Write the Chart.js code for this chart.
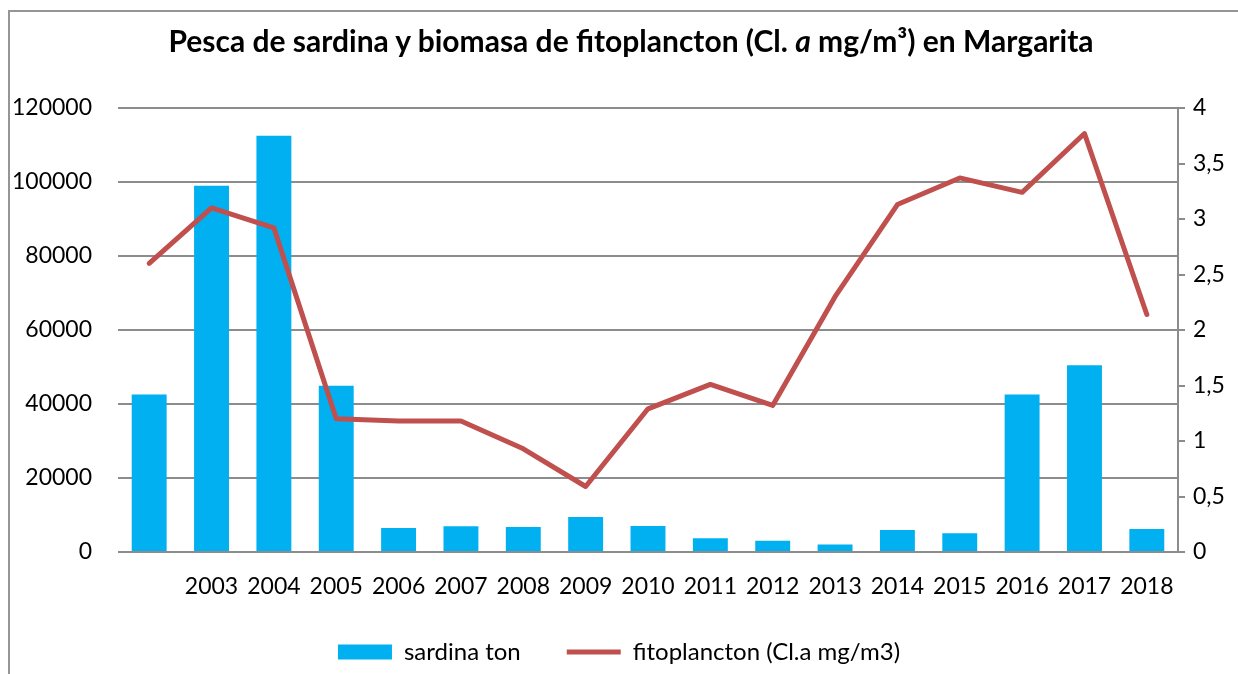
<!DOCTYPE html>
<html>
<head>
<meta charset="utf-8">
<script src="https://cdn.jsdelivr.net/npm/chart.js@4.4.1/dist/chart.umd.min.js"></script>
<style>
  html, body { margin: 0; padding: 0; background: #fff; }
  #wrap { position: relative; width: 1238px; height: 674px; overflow: hidden; }
  #frame { position: absolute; left: 8px; top: 10px; width: 1240px; height: 680px;
           border-left: 2px solid #959595; border-top: 2px solid #959595; }
  #title { position: absolute; top: 22px; left: 12px; width: 1238px; text-align: center;
           font: bold 30px Lato, sans-serif; color: #000; }
  canvas { position: absolute; left: 0; top: 0; }
</style>
</head>
<body>
<div id="wrap">
  <div id="frame"></div>
  <canvas id="chart" width="1238" height="674"></canvas>
  <div id="title">Pesca de sardina y biomasa de fitoplancton (Cl. <i>a</i> mg/m³) en Margarita</div>
</div>
<script>
const years = ['', '2003', '2004', '2005', '2006', '2007', '2008', '2009', '2010',
               '2011', '2012', '2013', '2014', '2015', '2016', '2017', '2018'];
const sardinaTon = [42600, 99000, 112500, 44900, 6500, 6950, 6750, 9450, 7050,
                    3700, 3050, 2000, 5950, 5050, 42600, 50500, 6200];
const fitoplancton = [2.60, 3.10, 2.92, 1.20, 1.18, 1.18, 0.93, 0.59, 1.29,
                      1.51, 1.32, 2.30, 3.13, 3.37, 3.24, 3.77, 2.14];
const leftTicks = [0, 20000, 40000, 60000, 80000, 100000, 120000];
const rightTicks = [0, 0.5, 1, 1.5, 2, 2.5, 3, 3.5, 4];

const font = { family: 'Lato, sans-serif', size: 23 };
const ctx = document.getElementById('chart').getContext('2d');

new Chart(ctx, {
    type: 'bar',
    data: {
        labels: years,
        datasets: [{
            type: 'bar',
            label: 'sardina ton',
            data: sardinaTon,
            backgroundColor: '#00B0F0',
            borderWidth: 0,
            barPercentage: 0.56,
            categoryPercentage: 1,
            yAxisID: 'y',
            order: 1,
            pointStyle: 'rect'
        }, {
            type: 'line',
            label: 'fitoplancton (Cl.a mg/m3)',
            data: fitoplancton,
            borderColor: '#C0504D',
            backgroundColor: '#C0504D',
            borderWidth: 5,
            borderCapStyle: 'round',
            borderJoinStyle: 'round',
            pointRadius: 0,
            tension: 0,
            yAxisID: 'y1',
            order: 0,
            pointStyle: 'line'
        }]
    },
    options: {
        responsive: false,
        animation: false,
        devicePixelRatio: 1,
        layout: { padding: { top: 108, left: 0, right: 0, bottom: 0 } },
        plugins: {
            title: { display: false },
            tooltip: { enabled: false },
            legend: {
                position: 'bottom',
                labels: {
                    font: { family: 'Lato, sans-serif', size: 24 },
                    color: '#000',
                    usePointStyle: true,
                    pointStyleWidth: 54,
                    boxHeight: 15,
                    padding: 46,
                    sort: (a, b) => a.datasetIndex - b.datasetIndex
                }
            }
        },
        scales: {
            x: {
                grid: { display: false, drawTicks: false },
                border: { display: false },
                ticks: { font: font, color: '#000', padding: 21, maxRotation: 0, autoSkip: false },
                afterFit: scale => { scale.height = 42; }
            },
            y: {
                position: 'left',
                min: 0,
                max: 120000,
                afterBuildTicks: scale => { scale.ticks = leftTicks.map(v => ({ value: v })); },
                grid: { color: '#8c8c8c', lineWidth: 2, drawTicks: false },
                border: { display: false },
                ticks: { font: font, color: '#000', padding: 26, callback: v => String(v) },
                afterFit: scale => { scale.width = 118; }
            },
            y1: {
                position: 'right',
                min: 0,
                max: 4,
                afterBuildTicks: scale => { scale.ticks = rightTicks.map(v => ({ value: v })); },
                grid: { drawOnChartArea: false, color: '#8c8c8c', lineWidth: 2, tickLength: 7 },
                border: { display: true, color: '#8c8c8c', width: 2 },
                ticks: { font: font, color: '#000', padding: 8,
                         callback: v => String(v).replace('.', ',') },
                afterFit: scale => { scale.width = 60; }
            }
        }
    }
});
</script>
</body>
</html>
